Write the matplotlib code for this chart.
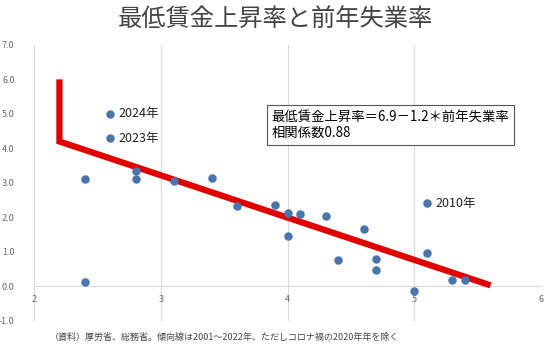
import matplotlib.pyplot as plt

plt.rcParams['font.family'] = ['Noto Sans CJK JP', 'DejaVu Sans']

# unemployment rate of the previous year (%) / minimum wage growth (%)
unemp = [2.6, 2.6, 2.4, 2.4, 2.8, 2.8, 3.1, 3.4, 3.6, 3.9, 4.0, 4.0, 4.1,
         4.3, 4.4, 4.6, 4.7, 4.7, 5.0, 5.1, 5.1, 5.3, 5.4]
wage = [5.0, 4.3, 3.1, 0.13, 3.35, 3.1, 3.05, 3.15, 2.33, 2.35, 2.12, 1.45,
        2.1, 2.03, 0.77, 1.65, 0.78, 0.47, -0.14, 2.41, 0.98, 0.17, 0.17]
labels = {0: "2024年", 1: "2023年", 19: "2010年"}

trend_x = [2.2, 2.2, 5.6]
trend_y = [6.0, 4.2, 0.03]

fig = plt.figure(figsize=(5.5, 3.48), dpi=100)
ax = fig.add_axes([0.062, 0.078, 0.922, 0.793])

ax.plot(trend_x, trend_y, color="#e00000", lw=4.5, solid_joinstyle="miter",
        solid_capstyle="butt", zorder=3)
ax.scatter(unemp, wage, s=26, color="#4a76ad", zorder=4)
for i, t in labels.items():
    ax.annotate(t, (unemp[i], wage[i]), xytext=(6, 0), textcoords="offset points",
                va="center", fontsize=9, color="#222222")

ax.text(3.87, 4.68, "最低賃金上昇率＝6.9－1.2＊前年失業率\n相関係数0.88",
        fontsize=9.6, va="center", ha="left", linespacing=1.25,
        bbox=dict(boxstyle="square,pad=0.35", fc="white", ec="#555555", lw=0.8))

ax.set_xlim(2, 6)
ax.set_ylim(-1, 7)
ax.set_xticks([2, 3, 4, 5, 6])
ax.set_yticks([-1, 0, 1, 2, 3, 4, 5, 6, 7])
ax.set_yticklabels(["%.1f" % v for v in [-1, 0, 1, 2, 3, 4, 5, 6, 7]])
ax.grid(axis="x", color="#d9d9d9", lw=0.8)
ax.set_axisbelow(True)
for s in ["top", "right", "left"]:
    ax.spines[s].set_visible(False)
ax.spines["bottom"].set_position(("data", 0))
ax.spines["bottom"].set_color("#d9d9d9")
ax.tick_params(length=0, labelsize=6.5, colors="#666666", pad=6)
ax.tick_params(axis="y", pad=14)

fig.text(0.5, 0.945, "最低賃金上昇率と前年失業率", ha="center", va="center",
         fontsize=17.5, color="#444444")
fig.text(0.09, 0.03, "（資料）厚労省、総務省。傾向線は2001～2022年、ただしコロナ禍の2020年年を除く",
         fontsize=6.5, color="#444444", va="center")

fig.savefig("out.png")
